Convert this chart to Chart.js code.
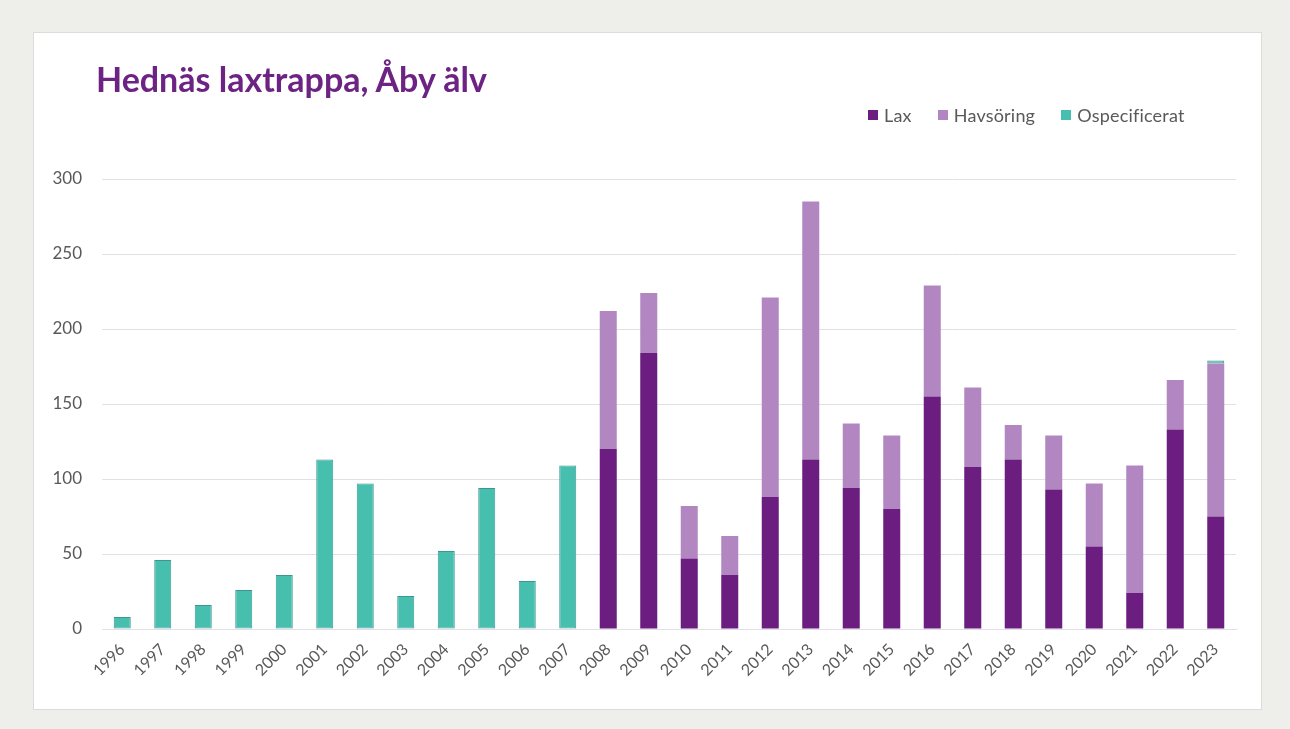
<!DOCTYPE html>
<html lang="sv">
<head>
<meta charset="utf-8">
<title>Hednäs laxtrappa, Åby älv</title>
<script src="https://cdn.jsdelivr.net/npm/chart.js@4.4.1/dist/chart.umd.min.js"></script>
<style>
    body { margin: 0; background: #eeeeea; width: 1290px; height: 729px; overflow: hidden; font-family: Lato, "Open Sans", sans-serif; }
    .panel { position: absolute; left: 33px; top: 32px; width: 1229px; height: 678px; background: #fff; border: 1px solid #dcdcd8; box-sizing: border-box; }
    .panel canvas { position: absolute; left: 0; top: 0; }
    .title { position: absolute; left: 62px; top: 25px; font-size: 34px; font-weight: bold; color: #6d2383; white-space: nowrap; }
    .legend { position: absolute; left: 834px; top: 71px; display: flex; gap: 26px; font-size: 18px; color: #595959; font-variant-ligatures: none; letter-spacing: 0.2px; }
    .legend span { display: flex; align-items: center; }
    .legend i { display: inline-block; width: 10px; height: 10px; margin-right: 6px; }
</style>
</head>
<body>
<div class="panel">
    <canvas id="chart" width="1229" height="678"></canvas>
    <div class="title">Hednäs laxtrappa, Åby älv</div>
    <div class="legend" id="legend"></div>
</div>
<script>
    const years = ['1996', '1997', '1998', '1999', '2000', '2001', '2002', '2003', '2004', '2005',
        '2006', '2007', '2008', '2009', '2010', '2011', '2012', '2013', '2014', '2015',
        '2016', '2017', '2018', '2019', '2020', '2021', '2022', '2023'];

    // 1996-2007 only counted as a total, species split from 2008
    const lax = [null, null, null, null, null, null, null, null, null, null, null, null,
        120, 184, 47, 36, 88, 113, 94, 80, 155, 108, 113, 93, 55, 24, 133, 75];
    const havsoring = [null, null, null, null, null, null, null, null, null, null, null, null,
        92, 40, 35, 26, 133, 172, 43, 49, 74, 53, 23, 36, 42, 85, 33, 102];
    const ospecificerat = [8, 46, 16, 26, 36, 113, 97, 22, 52, 94, 32, 109,
        null, null, null, null, null, null, null, null, null, null, null, null, null, null, null, 2];

    const yTicks = [0, 50, 100, 150, 200, 250, 300];

    const tickColor = '#595959';
    const gridColor = '#e2e0e7';

    const chart = new Chart(document.getElementById('chart').getContext('2d'), {
        type: 'bar',
        data: {
            labels: years,
            datasets: [
                { label: 'Lax', data: lax, backgroundColor: '#6c1d80', borderWidth: 0 },
                { label: 'Havsöring', data: havsoring, backgroundColor: '#b287c1', borderWidth: 0 },
                { label: 'Ospecificerat', data: ospecificerat, backgroundColor: '#47bfae', borderColor: '#3c9792', borderWidth: 1, borderSkipped: false }
            ]
        },
        options: {
            responsive: false,
            animation: false,
            layout: { padding: { top: 146, left: 0, right: 27, bottom: 0 } },
            datasets: { bar: { barPercentage: 0.42, categoryPercentage: 1 } },
            plugins: {
                legend: { display: false },
                title: { display: false },
                tooltip: { enabled: false }
            },
            scales: {
                x: {
                    stacked: true,
                    grid: { display: false },
                    border: { color: gridColor },
                    ticks: {
                        color: tickColor,
                        font: { family: 'Lato', size: 16 },
                        minRotation: 45,
                        maxRotation: 45,
                        padding: 3
                    },
                    afterFit: (scale) => { scale.height = 82; }
                },
                y: {
                    stacked: true,
                    min: 0,
                    max: 300,
                    afterBuildTicks: (scale) => { scale.ticks = yTicks.map(v => ({ value: v })); },
                    grid: { color: gridColor, drawTicks: false },
                    border: { display: false },
                    ticks: {
                        color: tickColor,
                        font: { family: 'Lato', size: 17 },
                        padding: 20
                    },
                    afterFit: (scale) => { scale.width = 68; }
                }
            }
        }
    });

    // legend as html, built from the datasets
    const legend = document.getElementById('legend');
    chart.data.datasets.forEach(ds => {
        const item = document.createElement('span');
        item.innerHTML = '<i style="background:' + ds.backgroundColor + '"></i>' + ds.label;
        legend.appendChild(item);
    });
</script>
</body>
</html>
